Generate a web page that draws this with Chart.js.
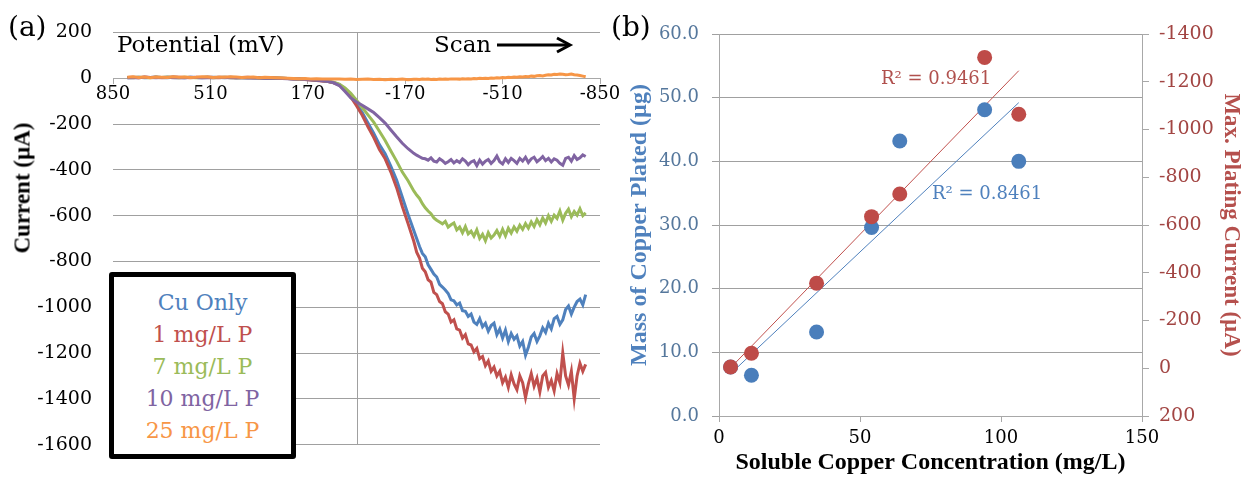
<!DOCTYPE html>
<html lang="en">
<head>
<meta charset="UTF-8">
<title>Copper plating – current and mass</title>
<script src="https://cdn.jsdelivr.net/npm/chart.js"></script>
<style>
  html, body { margin: 0; padding: 0; background: #fff; overflow: hidden; }
  .fig { position: relative; width: 1245px; height: 477px; }
  .panel { position: absolute; top: 0; height: 477px; }
  #panelA { left: 0; width: 640px; }
  #panelB { left: 615px; width: 630px; }
  .lbl { position: absolute; font-family: "DejaVu Serif", serif; line-height: 1; white-space: nowrap; color: #000; }
  .letter { font-size: 28px; top: 13px; }
  .ytitle { font-family: "Liberation Serif", serif; font-weight: bold; font-size: 23px;
            transform: translate(-50%, -50%) rotate(-90deg); }
  .legend { position: absolute; left: 109px; top: 272px; width: 187px; height: 187px; box-sizing: border-box;
            border: 5px solid #000; border-radius: 3px; background: #fff; padding-top: 10px;
            font-family: "DejaVu Serif", serif; font-size: 22px; line-height: 32px; text-align: center; }
  .r2 { font-size: 18px; }
</style>
</head>
<body>
<div class="fig">
  <div class="panel" id="panelA"><canvas id="chartA"></canvas></div>
  <div class="panel" id="panelB"><canvas id="chartB"></canvas></div>

  <div class="lbl letter" style="left:8px;">(a)</div>
  <div class="lbl letter" style="left:611px;">(b)</div>
  <div class="lbl" style="left:117px; top:33px; font-size:23px;">Potential (mV)</div>
  <div class="lbl" style="left:434px; top:33px; font-size:23px;">Scan</div>
  <svg style="position:absolute; left:497px; top:35px;" width="78" height="20">
    <line x1="0" y1="10" x2="72" y2="10" stroke="#000" stroke-width="3"/>
    <polyline points="60,3 73,10 60,17" fill="none" stroke="#000" stroke-width="3"/>
  </svg>
  <div class="lbl ytitle" style="left:22px; top:188px;">Current (µA)</div>
  <div class="legend" id="legendA"></div>
  <div class="lbl r2" style="left:881px; top:69px; color:#b0504d;">R² = 0.9461</div>
  <div class="lbl r2" style="left:932px; top:184px; color:#4f81bd;">R² = 0.8461</div>
</div>

<script>
// ---------- panel (a): linear sweep voltammetry ----------
// potential (mV), scanned from +800 to -800 (finer steps on the plateau)
const potential = [
  800, 780, 760, 740, 720, 700, 680, 660, 640, 620,
  600, 580, 560, 540, 520, 500, 480, 460, 440, 420,
  400, 380, 360, 340, 320, 300, 280, 260, 240, 220,
  200, 180, 160, 140, 120, 100, 80, 60, 40, 20,
  0, -20, -40, -60, -80, -100, -120, -140, -160, -180,
  -200,
  -210, -220, -230, -240, -250, -260, -270, -280, -290, -300,
  -310, -320, -330, -340, -350, -360, -370, -380, -390, -400,
  -410, -420, -430, -440, -450, -460, -470, -480, -490, -500,
  -510, -520, -530, -540, -550, -560, -570, -580, -590, -600,
  -610, -620, -630, -640, -650, -660, -670, -680, -690, -700,
  -710, -720, -730, -740, -750, -760, -770, -780, -790, -800
];

// current (µA)
const cuOnly = [
  2, 3, 4, 2, 3, 5, 3, 2, 4, 3, 2, 4, 3, 2, 3, 4, 3, 2, 4, 2,
  3, 2, 3, 1, 2, 1, 0, 0, -1, -2, -4, -5, -7, -9, -11, -14,
  -19, -28, -48, -76, -112, -150, -196, -240, -290, -330,
  -385, -445, -520, -595, -665,
  -700, -735, -765, -780, -815, -835, -855, -868, -900, -912,
  -925, -940, -968, -972, -990, -982, -1015, -1018, -1040, -1030,
  -1065, -1075, -1050, -1085, -1070, -1105, -1080, -1070, -1120, -1095,
  -1135, -1100, -1150, -1115, -1140, -1125, -1170, -1150, -1210, -1175,
  -1130, -1115, -1150, -1125, -1090, -1110, -1070, -1095, -1050, -1040,
  -1075, -1055, -1010, -995, -1030, -1000, -975, -965, -990, -945
];
const p1 = [
  3, 4, 2, 5, 3, 4, 2, 3, 5, 4, 3, 2, 4, 3, 5, 3, 2, 4, 3, 2,
  3, 4, 2, 3, 1, 2, 1, 0, -1, -3, -4, -6, -8, -10, -12, -15,
  -20, -30, -52, -82, -120, -162, -212, -258, -312, -352,
  -410, -478, -560, -635, -712,
  -760, -785, -830, -845, -880, -890, -935, -945, -975, -985,
  -1020, -1030, -1065, -1055, -1095, -1100, -1135, -1120, -1160, -1165,
  -1195, -1180, -1225, -1215, -1255, -1235, -1280, -1262, -1300, -1280,
  -1330, -1305, -1350, -1295, -1335, -1360, -1300, -1330, -1395, -1335,
  -1290, -1345, -1310, -1370, -1300, -1285, -1350, -1320, -1365, -1290,
  -1330, -1200, -1300, -1340, -1280, -1400, -1300, -1245, -1280, -1250
];
const p7 = [
  3, 2, 4, 3, 2, 4, 3, 5, 3, 2, 4, 3, 2, 3, 4, 2, 3, 4, 2, 3,
  2, 3, 2, 1, 2, 0, 1, 0, -1, -2, -3, -5, -6, -8, -10, -13,
  -18, -26, -42, -66, -96, -128, -160, -192, -232, -272,
  -318, -362, -410, -448, -492,
  -510, -525, -548, -566, -580, -592, -610, -620, -628, -636,
  -625, -650, -640, -632, -662, -650, -675, -648, -680, -668,
  -690, -662, -700, -682, -710, -675, -698, -685, -665, -690,
  -660, -688, -655, -676, -650, -668, -642, -660, -635, -655,
  -628, -648, -618, -640, -610, -632, -600, -625, -598, -612,
  -580, -620, -590, -572, -605, -582, -598, -570, -600, -588
];
const p10 = [
  2, 3, 2, 4, 3, 2, 3, 4, 2, 3, 2, 4, 3, 2, 3, 2, 4, 3, 2, 3,
  2, 1, 2, 1, 0, 1, 0, -1, -2, -3, -4, -6, -7, -9, -11, -14,
  -20, -32, -58, -86, -104, -118, -134, -150, -172, -196,
  -226, -256, -284, -308, -328,
  -336, -343, -350, -352, -358, -348, -362, -366, -352, -360,
  -372, -365, -355, -370, -360, -368, -352, -362, -378, -366,
  -360, -382, -358, -375, -362, -355, -372, -360, -340, -365,
  -375, -352, -368, -350, -360, -372, -350, -362, -345, -368,
  -352, -345, -365, -355, -342, -360, -350, -366, -352, -358,
  -372, -380, -350, -345, -362, -338, -355, -348, -335, -342
];
const p25 = [
  4, 6, 3, 5, 2, 5, 4, 3, 6, 4, 5, 3, 4, 6, 5, 3, 5, 4, 6, 5,
  3, 4, 5, 2, 4, 3, 2, 1, 0, -1, -2, -1, -3, -2, -4, -3,
  -4, -3, -5, -4, -6, -5, -4, -6, -5, -7,
  -5, -6, -4, -7, -5,
  -5, -6, -4, -5, -4, -6, -5, -6, -4, -5,
  -4, -5, -3, -4, -3, -4, -2, -3, -2, -3,
  -1, -2, 0, -1, 0, -1, 1, 0, 2, 1,
  3, 2, 4, 3, 5, 4, 6, 5, 7, 6,
  9, 8, 11, 12, 10, 13, 15, 14, 17, 16,
  18, 17, 15, 16, 18, 15, 14, 12, 9, 6
];

const seriesNames = ['Cu Only', '1 mg/L P', '7 mg/L P', '10 mg/L P', '25 mg/L P'];
const seriesValues = [cuOnly, p1, p7, p10, p25];
const seriesColors = ['#4F81BD', '#C0504D', '#9BBB59', '#8064A2', '#F79646'];

// ---------- panel (b): plating results ----------
const concentration = [4.1, 11.5, 34.6, 54.1, 64.1, 94.2, 106.3];   // mg/L
const massPlated    = [7.7, 6.4, 13.2, 29.6, 43.2, 48.1, 40.0];     // µg
const maxCurrent    = [-5, -63, -356, -635, -730, -1302, -1064];    // µA

const gridGray = '#a0a0a0';
const axisGray = '#a8a8a8';
const blue = '#4A7EBB';
const red = '#BE4B48';

Chart.defaults.font.family = '"DejaVu Serif", serif';
Chart.defaults.color = '#000';
Chart.defaults.animation = false;
Chart.defaults.plugins.legend.display = false;
Chart.defaults.plugins.tooltip.enabled = false;

// legend box of panel (a)
document.getElementById('legendA').innerHTML = seriesNames
  .map((n, i) => '<div style="color:' + seriesColors[i] + '">' + n + '</div>').join('');

// vertical axis line through 0 mV
const zeroLine = {
  id: 'zeroLine',
  beforeDatasetsDraw(chart) {
    const {ctx, chartArea, scales} = chart;
    const x = Math.round(scales.x.getPixelForValue(0)) + 0.5;
    ctx.save();
    ctx.strokeStyle = gridGray;
    ctx.lineWidth = 1;
    ctx.beginPath();
    ctx.moveTo(x, chartArea.top);
    ctx.lineTo(x, chartArea.bottom);
    ctx.stroke();
    ctx.restore();
  }
};

// 25 mg/L drawn on top, Cu Only at the bottom (like the original)
const drawOrder = [4, 3, 2, 1, 0];

new Chart(document.getElementById('chartA'), {
  type: 'line',
  data: {
    datasets: seriesNames.map((name, i) => ({
      label: name,
      data: potential.map((p, k) => ({x: p, y: seriesValues[i][k]})),
      borderColor: seriesColors[i],
      borderWidth: 3,
      pointRadius: 0,
      tension: 0,
      order: drawOrder[i]
    }))
  },
  options: {
    responsive: true,
    maintainAspectRatio: false,
    layout: { padding: { top: 25, right: 40, bottom: 25, left: 0 } },
    scales: {
      x: {
        type: 'linear',
        position: { y: 0 },
        reverse: true,
        min: -850,
        max: 850,
        ticks: { stepSize: 340, autoSkip: false, maxRotation: 0, padding: 0,
                 font: { size: 18 }, callback: v => String(v) },
        grid: { drawOnChartArea: false, tickLength: 5, color: axisGray },
        border: { color: axisGray }
      },
      y: {
        min: -1600,
        max: 200,
        ticks: { stepSize: 200, padding: 21, font: { size: 19 }, callback: v => String(v) },
        grid: { color: gridGray, drawTicks: false },
        border: { display: false },
        afterFit(scale) { scale.width = 113; }
      }
    }
  },
  plugins: [zeroLine]
});

// least squares trendline across the data range
function trendline(xs, ys) {
  const n = xs.length;
  const mx = xs.reduce((a, b) => a + b, 0) / n;
  const my = ys.reduce((a, b) => a + b, 0) / n;
  let sxy = 0, sxx = 0;
  for (let i = 0; i < n; i++) {
    sxy += (xs[i] - mx) * (ys[i] - my);
    sxx += (xs[i] - mx) * (xs[i] - mx);
  }
  const m = sxy / sxx;
  const b = my - m * mx;
  const x0 = Math.min(...xs), x1 = Math.max(...xs);
  return [{x: x0, y: m * x0 + b}, {x: x1, y: m * x1 + b}];
}

const titleFont = { family: '"Liberation Serif", serif', weight: 'bold', size: 24 };

new Chart(document.getElementById('chartB'), {
  type: 'scatter',
  data: {
    datasets: [
      {
        label: 'Max. Plating Current',
        data: concentration.map((c, k) => ({x: c, y: maxCurrent[k]})),
        yAxisID: 'y2',
        backgroundColor: red,
        borderWidth: 0,
        pointRadius: 7.5,
        order: 0
      },
      {
        label: 'Mass of Copper Plated',
        data: concentration.map((c, k) => ({x: c, y: massPlated[k]})),
        yAxisID: 'y',
        backgroundColor: blue,
        borderWidth: 0,
        pointRadius: 7.5,
        order: 1
      },
      {
        label: 'current fit',
        data: trendline(concentration, maxCurrent),
        yAxisID: 'y2',
        showLine: true,
        borderColor: '#C0504D',
        borderWidth: 1,
        pointRadius: 0,
        order: 2
      },
      {
        label: 'mass fit',
        data: trendline(concentration, massPlated),
        yAxisID: 'y',
        showLine: true,
        borderColor: '#4F81BD',
        borderWidth: 1,
        pointRadius: 0,
        order: 3
      }
    ]
  },
  options: {
    responsive: true,
    maintainAspectRatio: false,
    layout: { padding: { top: 34, right: 0, bottom: 0, left: 0 } },
    scales: {
      x: {
        type: 'linear',
        min: 0,
        max: 150,
        ticks: { stepSize: 50, padding: 6, font: { size: 18 } },
        grid: { drawOnChartArea: false, tickLength: 6, color: axisGray },
        border: { color: axisGray },
        title: { display: true, text: 'Soluble Copper Concentration (mg/L)', font: titleFont,
                 padding: { top: 0, bottom: 0 } },
        afterFit(scale) { scale.height = 61; }
      },
      y: {
        position: 'left',
        min: 0,
        max: 60,
        ticks: { stepSize: 10, padding: 13, color: '#55779c', font: { size: 18 },
                 callback: v => v.toFixed(1) },
        grid: { color: gridGray, tickLength: 7 },
        border: { color: axisGray },
        title: { display: true, text: 'Mass of Copper Plated (µg)', color: '#4F81BD', font: titleFont,
                 padding: { top: 10, bottom: 0 } },
        afterFit(scale) { scale.width = 104; }
      },
      y2: {
        position: 'right',
        reverse: true,
        min: -1400,
        max: 200,
        ticks: { stepSize: 200, padding: 10, color: '#a24543', font: { size: 19 },
                 callback: v => String(v) },
        grid: { drawOnChartArea: false, tickLength: 7, color: axisGray },
        border: { color: axisGray },
        title: { display: true, text: 'Max. Plating Current (µA)', color: '#B5504D',
                 font: { ...titleFont, size: 23 }, padding: { top: 0, bottom: 0 } },
        afterFit(scale) { scale.width = 103; }
      }
    }
  }
});
</script>
</body>
</html>
